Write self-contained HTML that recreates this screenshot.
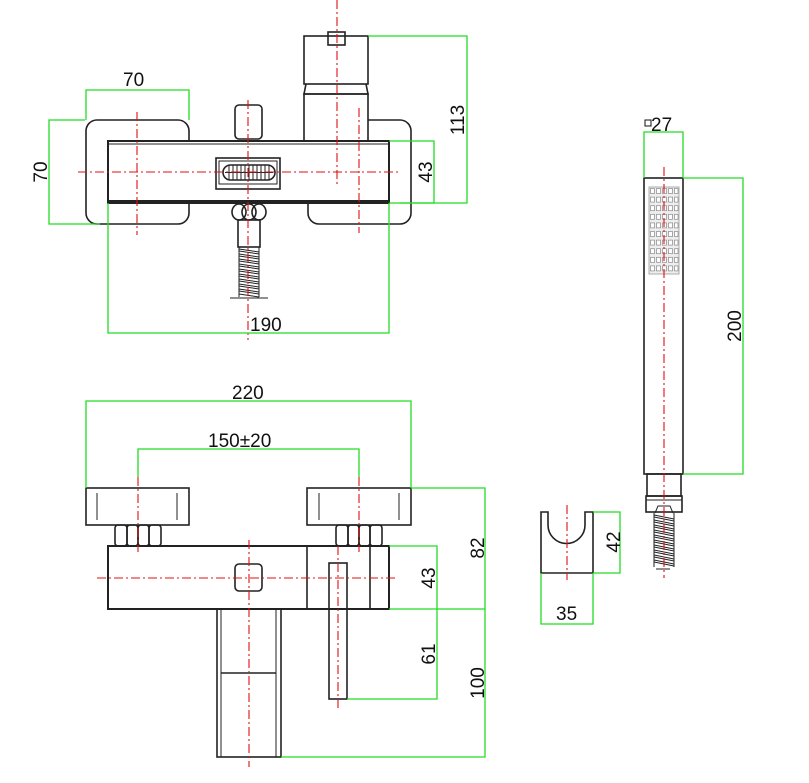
<!DOCTYPE html>
<html><head><meta charset="utf-8"><style>
html,body{margin:0;padding:0;background:#fff}
svg{display:block}
text{font-family:"Liberation Sans",sans-serif;font-size:19px;fill:#111}
.k{fill:none;stroke:#222;stroke-width:1.6}
.kt{fill:none;stroke:#222;stroke-width:1}
.g{fill:none;stroke:#22dd22;stroke-width:1.3}
.r{fill:none;stroke:#e01010;stroke-width:1.1;stroke-dasharray:9 3 2 3}
.gr{fill:none;stroke:#999;stroke-width:0.8}
</style></head><body>
<svg width="809" height="783" viewBox="0 0 809 783" xmlns="http://www.w3.org/2000/svg">
<!-- ===== TOP VIEW ===== -->
<rect class="k" x="86" y="120" width="103" height="104" rx="11"/>
<path class="k" d="M368 120 H400 a11 11 0 0 1 11 11 V213 a11 11 0 0 1 -11 11 H319 a11 11 0 0 1 -11 -11 V203"/>
<rect x="108" y="141" width="281" height="62" fill="#fff" stroke="#222" stroke-width="2"/>
<line class="kt" x1="108" y1="144" x2="389" y2="144"/>
<line x1="108" y1="201" x2="389" y2="201" stroke="#222" stroke-width="2"/>
<!-- cylinder -->
<rect class="k" x="304" y="36" width="64" height="48" fill="#fff"/>
<rect class="k" x="328" y="32" width="17" height="13" fill="#fff"/>
<path class="k" d="M306 84 L304 94 H368 L366 84"/>
<rect class="k" x="304" y="94" width="64" height="47" fill="#fff"/>
<!-- knob -->
<rect class="k" x="235" y="105" width="27" height="34" rx="4"/>
<!-- slot -->
<rect class="k" x="216" y="158" width="64" height="31"/>
<rect class="kt" x="219" y="161" width="58" height="23"/>
<rect class="k" x="223" y="165" width="52" height="15" rx="7.5"/>
<g class="kt"><path d="M229 165v15M233 165v15M237 165v15M241 165v15M245 165v15M249 165v15M253 165v15M257 165v15M261 165v15M265 165v15M269 165v15"/><path d="M225 172.5H273"/></g>
<!-- nut + hose -->
<g class="k"><ellipse cx="239" cy="212" rx="7" ry="8"/><ellipse cx="249" cy="212" rx="7" ry="8"/><ellipse cx="259" cy="212" rx="7" ry="8"/></g>
<rect class="k" x="238" y="220" width="22" height="27"/>
<g class="kt">
<path d="M239 247v50M259 247v50M230 298h38"/>
<path d="M239 249l20 3M239 254l20 3M239 259l20 3M239 264l20 3M239 269l20 3M239 274l20 3M239 279l20 3M239 284l20 3M239 289l20 3M239 294l20 3"/>
<path d="M239 251l20 3M239 256l20 3M239 261l20 3M239 266l20 3M239 271l20 3M239 276l20 3M239 281l20 3M239 286l20 3M239 291l20 3"/>
</g>
<!-- centerlines -->
<line class="r" x1="78" y1="172" x2="400" y2="172"/>
<line class="r" x1="137" y1="112" x2="137" y2="235"/>
<line class="r" x1="248" y1="100" x2="248" y2="340"/>
<line class="r" x1="337" y1="0" x2="337" y2="186"/>
<line class="r" x1="359" y1="108" x2="359" y2="233"/>
<!-- dims -->
<path class="g" d="M86 120V90H189V120"/>
<text x="123" y="86">70</text>
<path class="g" d="M85 120H49V224H100"/>
<text transform="translate(47,172) rotate(-90)" text-anchor="middle">70</text>
<path class="g" d="M389 141H434V203H389"/>
<text transform="translate(432,172) rotate(-90)" text-anchor="middle">43</text>
<path class="g" d="M368 36H467V203H400"/>
<text transform="translate(464,120) rotate(-90)" text-anchor="middle">113</text>
<path class="g" d="M108 203V333H389V203"/>
<text x="250" y="331">190</text>

<!-- ===== FRONT VIEW ===== -->
<rect class="k" x="86" y="488" width="103" height="37"/>
<path class="kt" d="M97 493v27M177 493v27"/>
<rect class="k" x="307" y="488" width="104" height="37"/>
<path class="kt" d="M319 493v27M399 493v27"/>
<g class="k">
<rect x="115" y="525" width="12" height="21" rx="3"/><rect x="127" y="525" width="11" height="21" rx="3"/><rect x="138" y="525" width="11" height="21" rx="3"/><rect x="149" y="525" width="12" height="21" rx="3"/>
<rect x="336" y="525" width="12" height="21" rx="3"/><rect x="348" y="525" width="11" height="21" rx="3"/><rect x="359" y="525" width="11" height="21" rx="3"/><rect x="370" y="525" width="12" height="21" rx="3"/>
</g>
<rect x="108" y="546" width="281" height="63" fill="none" stroke="#222" stroke-width="2"/>
<path class="k" d="M307 546v63M370 546v63"/>
<rect class="k" x="235" y="564" width="27" height="27" rx="4"/>
<rect class="k" x="329" y="563" width="18" height="136" fill="#fff"/>
<rect class="k" x="217" y="609" width="64" height="148"/>
<path class="kt" d="M221 609v148M276 609v148"/>
<path class="k" d="M221 673h55"/>
<line class="r" x1="97" y1="578" x2="395" y2="578"/>
<line class="r" x1="138" y1="477" x2="138" y2="552"/>
<line class="r" x1="359" y1="477" x2="359" y2="552"/>
<line class="r" x1="249" y1="540" x2="249" y2="767"/>
<line class="r" x1="338" y1="546" x2="338" y2="708"/>
<path class="g" d="M86 488V401H411V488"/>
<text x="232" y="399">220</text>
<path class="g" d="M138 477V449H359V477"/>
<text x="208" y="447">150±20</text>
<path class="g" d="M411 488H485V609H389"/>
<text transform="translate(484,548) rotate(-90)" text-anchor="middle">82</text>
<path class="g" d="M389 546H437V699H347"/>
<text transform="translate(435,578) rotate(-90)" text-anchor="middle">43</text>
<text transform="translate(435,654) rotate(-90)" text-anchor="middle">61</text>
<path class="g" d="M485 609V757H281"/>
<text transform="translate(484,683) rotate(-90)" text-anchor="middle">100</text>

<!-- ===== HAND SHOWER ===== -->
<rect class="k" x="644" y="178" width="39" height="296"/>
<g class="gr">
<rect x="649" y="187" width="30" height="87" fill="#eee"/>
</g>
<g fill="#fff" stroke="#888" stroke-width="0.7" id="noz">
<rect x="650.5" y="188.5" width="4" height="5"/><rect x="656.5" y="188.5" width="4" height="5"/><rect x="662.5" y="188.5" width="4" height="5"/><rect x="668.5" y="188.5" width="4" height="5"/><rect x="674.5" y="188.5" width="3.5" height="5"/>
</g>
<use href="#noz" y="8.6"/><use href="#noz" y="17.2"/><use href="#noz" y="25.8"/><use href="#noz" y="34.4"/><use href="#noz" y="43"/><use href="#noz" y="51.6"/><use href="#noz" y="60.2"/><use href="#noz" y="68.8"/><use href="#noz" y="77.4"/>
<rect class="k" x="647" y="474" width="34" height="22"/>
<rect class="k" x="646" y="496" width="36" height="16"/>
<path class="kt" d="M646 500h36M655 513l3-7h12l3 7"/>
<g class="kt">
<path d="M654 513v54M674 513v54M656 569h14"/>
<path d="M654 515l20 4M654 520l20 4M654 525l20 4M654 530l20 4M654 535l20 4M654 540l20 4M654 545l20 4M654 550l20 4M654 555l20 4M654 560l20 4"/>
<path d="M654 517l20 4M654 522l20 4M654 527l20 4M654 532l20 4M654 537l20 4M654 542l20 4M654 547l20 4M654 552l20 4M654 557l20 4M654 562l20 4"/>
</g>
<line class="r" x1="664" y1="167" x2="664" y2="578"/>
<path class="g" d="M644 178V132H683V178"/>
<rect x="645" y="120" width="6" height="6" fill="none" stroke="#111" stroke-width="1"/>
<text x="651" y="131">27</text>
<path class="g" d="M683 178H743V474H683"/>
<text transform="translate(741,326) rotate(-90)" text-anchor="middle">200</text>

<!-- holder -->
<path class="k" d="M541 512V573H593V512H585V525A18.5 18.5 0 0 1 548 525V512Z"/>
<line class="r" x1="567" y1="505" x2="567" y2="580"/>
<path class="g" d="M593 512H620V573H593"/>
<text transform="translate(620,542) rotate(-90)" text-anchor="middle">42</text>
<path class="g" d="M541 573V624H593V573"/>
<text x="556" y="620">35</text>
</svg>
</body></html>
